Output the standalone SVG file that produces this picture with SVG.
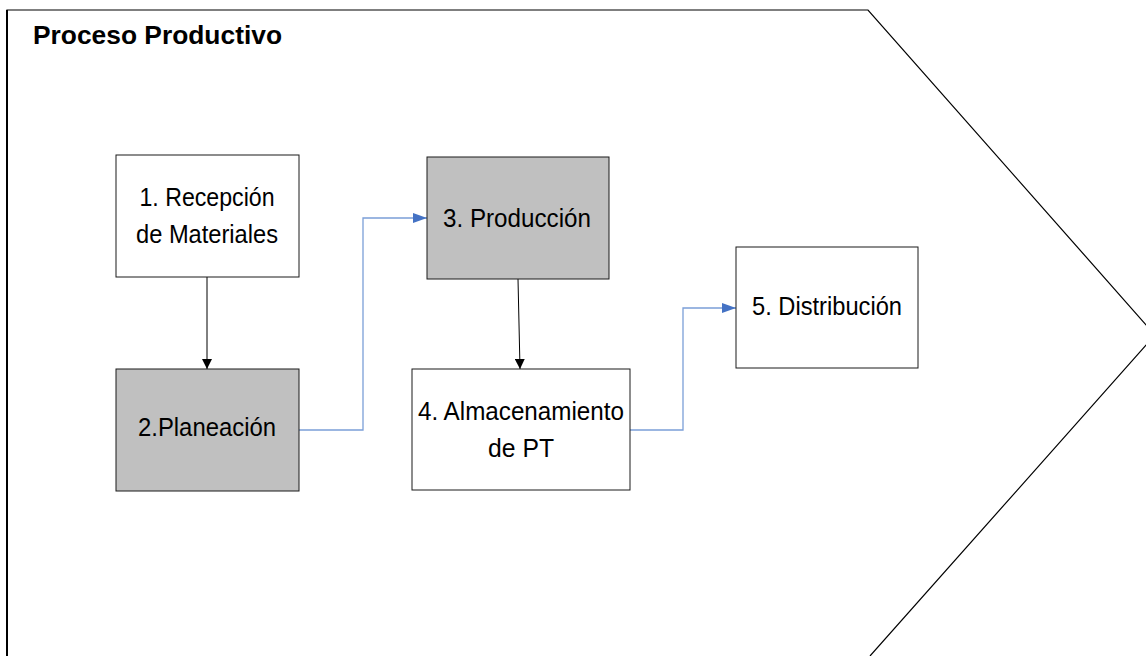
<svg xmlns="http://www.w3.org/2000/svg" width="1146" height="656" viewBox="0 0 1146 656">
  <style>
    .box { stroke: #1a1a1a; stroke-width: 1; }
    .white { fill: #ffffff; }
    .gray { fill: #c0c0c0; }
    .label { font-family: "Liberation Sans", Arial, sans-serif; font-size: 26px; fill: #000000; text-anchor: middle; }
    .title { font-family: "Liberation Sans", Arial, sans-serif; font-size: 26px; font-weight: bold; fill: #000000; }
    .black-link { stroke: #000000; stroke-width: 1; fill: none; }
    .blue-link { stroke: #7b9fd8; stroke-width: 1.3; fill: none; }
  </style>
  <defs>
    <marker id="arrowBlack" viewBox="0 0 10 10" refX="10" refY="5" markerWidth="10" markerHeight="10" markerUnits="userSpaceOnUse" orient="auto">
      <path d="M0,0 L10,5 L0,10 Z" fill="#000000"/>
    </marker>
    <marker id="arrowBlue" viewBox="0 0 14 10" refX="14" refY="5" markerWidth="14" markerHeight="10" markerUnits="userSpaceOnUse" orient="auto">
      <path d="M0,0 L14,5 L0,10 Z" fill="#4472c4"/>
    </marker>
  </defs>

  <rect width="1146" height="656" fill="#ffffff"/>

  <!-- Chevron-shaped process frame -->
  <g id="frame">
    <path d="M7,656 L7,10 L868,10 L1155,335 L870,656" fill="none" stroke="#000000" stroke-width="1.2"/>
    <path d="M7,656 L7,10" fill="none" stroke="#000000" stroke-width="2"/>
    <text class="title" x="33" y="44" textLength="249" lengthAdjust="spacingAndGlyphs">Proceso Productivo</text>
  </g>

  <g id="connectors">
    <line class="black-link" x1="207" y1="277" x2="207" y2="369" marker-end="url(#arrowBlack)"/>
    <polyline class="blue-link" points="299,430 363,430 363,218 427,218" marker-end="url(#arrowBlue)"/>
    <line class="black-link" x1="518" y1="279" x2="520" y2="369" marker-end="url(#arrowBlack)"/>
    <polyline class="blue-link" points="630,430 683,430 683,308 736,308" marker-end="url(#arrowBlue)"/>
  </g>

  <g id="node1">
    <rect class="box white" x="116" y="155" width="183" height="122"/>
    <text class="label" x="207" y="206" textLength="135" lengthAdjust="spacingAndGlyphs">1. Recepción</text>
    <text class="label" x="207" y="243" textLength="142" lengthAdjust="spacingAndGlyphs">de Materiales</text>
  </g>

  <g id="node2">
    <rect class="box gray" x="116" y="369" width="183" height="122"/>
    <text class="label" x="207" y="436" textLength="138" lengthAdjust="spacingAndGlyphs">2.Planeación</text>
  </g>

  <g id="node3">
    <rect class="box gray" x="427" y="157" width="182" height="122"/>
    <text class="label" x="517" y="227" textLength="148" lengthAdjust="spacingAndGlyphs">3. Producción</text>
  </g>

  <g id="node4">
    <rect class="box white" x="412" y="369" width="218" height="121"/>
    <text class="label" x="521" y="420" textLength="206" lengthAdjust="spacingAndGlyphs">4. Almacenamiento</text>
    <text class="label" x="521" y="457" textLength="66" lengthAdjust="spacingAndGlyphs">de PT</text>
  </g>

  <g id="node5">
    <rect class="box white" x="736" y="247" width="182" height="121"/>
    <text class="label" x="827" y="315" textLength="150" lengthAdjust="spacingAndGlyphs">5. Distribución</text>
  </g>
</svg>
